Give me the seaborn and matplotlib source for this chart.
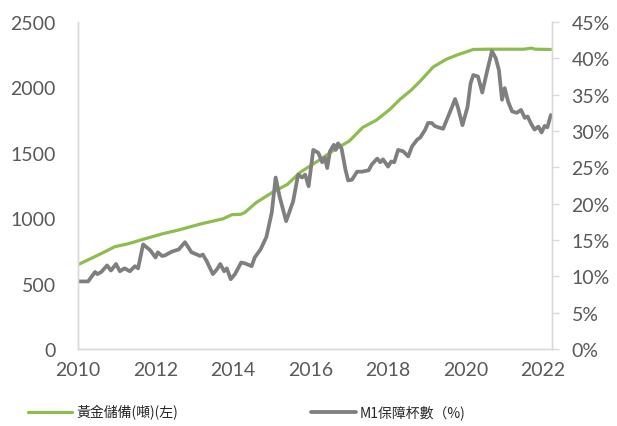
import matplotlib
matplotlib.use("Agg")
import matplotlib.pyplot as plt
import matplotlib.ticker as mticker
from matplotlib.lines import Line2D
import pandas as pd
import seaborn as sns

# Gold reserves (tonnes), left axis
gold_year = [2010.0, 2010.5, 2010.95, 2011.3, 2011.65, 2012.17, 2012.6, 2013.15,
             2013.74, 2013.97, 2014.2, 2014.3, 2014.6, 2015.03, 2015.4, 2015.73,
             2016.25, 2016.6, 2017.0, 2017.35, 2017.7, 2018.05, 2018.31, 2018.6,
             2018.83, 2019.16, 2019.5, 2019.8, 2020.2, 2020.6, 2021.0, 2021.5,
             2021.7, 2021.8, 2022.2]
gold_tons = [645, 715, 782, 805, 836, 880, 910, 955,
             995, 1027, 1030, 1043, 1120, 1200, 1258, 1350,
             1449, 1520, 1590, 1695, 1750, 1833, 1909, 1980,
             2048, 2155, 2215, 2250, 2290, 2292, 2292, 2292,
             2300, 2292, 2290]

# M1 coverage ratio (%), right axis
m1_year = [2010.0, 2010.26, 2010.44, 2010.5, 2010.6, 2010.75, 2010.85, 2010.98,
           2011.08, 2011.2, 2011.34, 2011.47, 2011.55, 2011.68, 2011.86, 2012.0,
           2012.06, 2012.17, 2012.25, 2012.42, 2012.6, 2012.76, 2012.93, 2013.07,
           2013.15, 2013.22, 2013.32, 2013.48, 2013.59, 2013.67, 2013.77, 2013.84,
           2013.94, 2014.05, 2014.21, 2014.3, 2014.48, 2014.56, 2014.71, 2014.86,
           2015.0, 2015.1, 2015.2, 2015.37, 2015.55, 2015.68, 2015.78, 2015.86,
           2015.95, 2016.07, 2016.2, 2016.3, 2016.37, 2016.43, 2016.5, 2016.6,
           2016.65, 2016.71, 2016.8, 2016.9, 2016.97, 2017.07, 2017.2, 2017.33,
           2017.5, 2017.58, 2017.72, 2017.8, 2017.87, 2018.0, 2018.08, 2018.16,
           2018.26, 2018.39, 2018.52, 2018.62, 2018.75, 2018.83, 2018.96, 2019.03,
           2019.13, 2019.2, 2019.3, 2019.42, 2019.55, 2019.65, 2019.73, 2019.8,
           2019.92, 2020.05, 2020.13, 2020.2, 2020.32, 2020.43, 2020.55, 2020.68,
           2020.78, 2020.86, 2020.94, 2021.01, 2021.1, 2021.2, 2021.32, 2021.43,
           2021.53, 2021.6, 2021.7, 2021.78, 2021.88, 2021.96, 2022.04, 2022.11,
           2022.2]
m1_pct = [9.3, 9.3, 10.6, 10.3, 10.6, 11.5, 10.8, 11.7,
          10.7, 11.1, 10.7, 11.4, 11.1, 14.4, 13.6, 12.6,
          13.3, 12.8, 12.9, 13.4, 13.7, 14.7, 13.3, 13.0,
          12.8, 13.0, 12.1, 10.3, 11.0, 11.7, 10.7, 11.1,
          9.6, 10.3, 11.9, 11.8, 11.4, 12.6, 13.7, 15.4,
          18.8, 23.6, 21.0, 17.6, 20.3, 24.0, 23.6, 24.0,
          22.4, 27.4, 27.0, 25.7, 26.3, 24.9, 27.2, 28.1,
          27.4, 28.3, 27.6, 24.7, 23.2, 23.3, 24.4, 24.4,
          24.6, 25.4, 26.2, 25.7, 26.1, 25.1, 25.8, 25.7,
          27.4, 27.2, 26.5, 27.9, 28.8, 29.1, 30.2, 31.1,
          31.1, 30.7, 30.5, 30.3, 32.0, 33.3, 34.4, 33.3,
          30.8, 33.3, 36.6, 37.7, 37.5, 35.3, 38.1, 41.0,
          40.0, 38.4, 34.3, 35.9, 34.0, 32.7, 32.5, 32.9,
          31.8, 32.0, 30.9, 30.2, 30.6, 29.8, 30.7, 30.5,
          32.2]

x_ticks = [2010, 2012, 2014, 2016, 2018, 2020, 2022]
gold_label = "黃金儲備(噸)(左)"
m1_label = "M1保障杯數（%)"

green = "#8DBD4F"
grey = "#7F7F7F"
spine_c = "#D9D9D9"
text_c = "#595959"

sns.set_style("white")
plt.rcParams["font.family"] = ["Lato", "DejaVu Sans"]

gold_df = pd.DataFrame({"year": gold_year, "tons": gold_tons})
m1_df = pd.DataFrame({"year": m1_year, "ratio": [v / 100 for v in m1_pct]})

fig = plt.figure(figsize=(6.17, 4.27), dpi=100)
ax = fig.add_axes([78 / 617, 1 - 350 / 427, (552 - 78) / 617, (350 - 23) / 427])
ax2 = ax.twinx()

sns.lineplot(data=gold_df, x="year", y="tons", ax=ax, color=green, linewidth=2.3)
sns.lineplot(data=m1_df, x="year", y="ratio", ax=ax2, color=grey, linewidth=2.7)

ax.set_xlim(2010, 2022.23)
ax.set_ylim(0, 2500)
ax2.set_ylim(0, 0.45)
ax.set_xticks(x_ticks)
ax.set_yticks(range(0, 2501, 500))
ax2.set_yticks([i * 0.05 for i in range(10)])
ax2.yaxis.set_major_formatter(mticker.FuncFormatter(lambda v, _: f"{round(v * 100)}%"))
ax.set_xlabel("")
ax.set_ylabel("")
ax2.set_ylabel("")

for a in (ax, ax2):
    a.spines["top"].set_visible(False)
    for s in ("left", "right", "bottom"):
        a.spines[s].set_color(spine_c)
        a.spines[s].set_linewidth(1.0)
    a.grid(False)

ax.tick_params(axis="x", direction="out", length=5, width=1, color=spine_c,
               labelsize=14, labelcolor=text_c, pad=4)
ax.tick_params(axis="y", length=0, labelsize=14, labelcolor=text_c, pad=16)
ax2.tick_params(axis="y", direction="out", length=5, width=1, color=spine_c,
                labelsize=14, labelcolor=text_c, pad=9)

handles = [Line2D([], [], color=green, linewidth=2.3),
           Line2D([], [], color=grey, linewidth=2.7)]
fig.legend(handles, [gold_label, m1_label], loc="center left",
           bbox_to_anchor=(15 / 617, 1 - 413 / 427), ncol=2, frameon=False,
           prop={"family": ["Noto Sans CJK TC", "DejaVu Sans"], "size": 10},
           handlelength=3.2, handletextpad=0.3, columnspacing=9.6,
           labelcolor="#262626")

fig.savefig("out.png", dpi=100)
